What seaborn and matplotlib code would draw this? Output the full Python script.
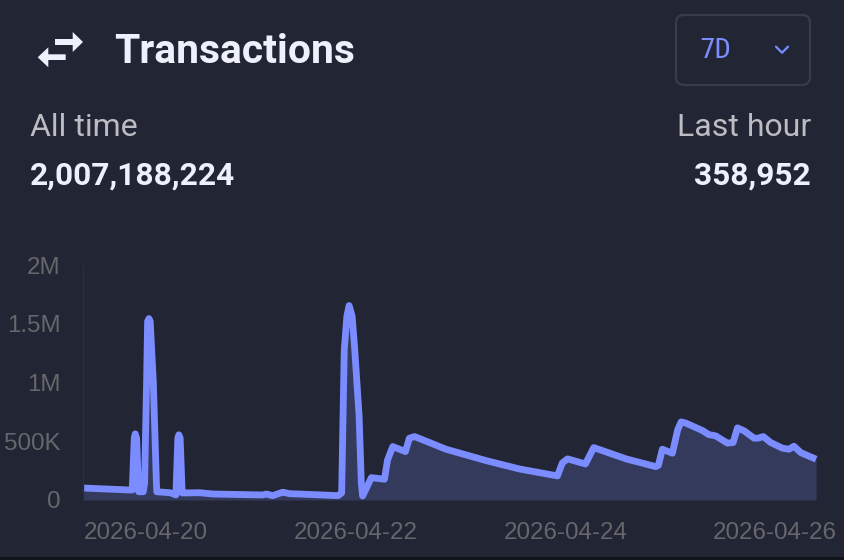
import matplotlib
matplotlib.use('Agg')
import matplotlib.pyplot as plt
import matplotlib.dates as mdates
from matplotlib.patches import FancyBboxPatch, Polygon
from matplotlib.transforms import IdentityTransform
import pandas as pd
import seaborn as sns

# hours after 2026-04-20 00:00 and transactions in thousands
hours = [-14.4, -3.7, -3.13, -2.67, -2.45, -2.13, -1.67, -0.6, -0.3, 0.15, 0.39, 0.69, 0.98, 1.7,
         2.4, 2.5, 5.5, 6.4, 6.86, 7.31, 7.54, 7.84, 8.3, 8.5, 12.3, 15.3, 26.7, 27.6,
         29.0, 31.3, 32.9, 44.0, 44.8, 45.4, 46.0, 46.5, 47.2, 47.8, 48.8, 49.3, 49.6,
         51.6, 54.6, 55.3, 56.5, 59.4, 60.3, 61.5, 68.7, 77.9, 85.5, 94.2, 95.3, 96.5,
         100.6, 102.5, 109.9, 116.7, 117.3, 118.2, 120.5, 121.7, 122.5, 123.6, 127.4, 128.8,
         130.4, 133.1, 134.4, 135.4, 136.9, 139.2, 140.1, 141.3, 143.0, 145.7, 147.2, 148.3,
         149.9, 153.4]
transactions = [102, 85, 85, 526, 563, 526, 70, 70, 145, 1000, 1521, 1544, 1521, 1000,
                145, 70, 62, 50, 43, 526, 555, 526, 60, 60, 62, 51, 43, 51,
                37, 66, 54, 37, 60, 1280, 1564, 1655, 1564, 1280, 711, 145, 34,
                190, 177, 340, 455, 412, 526, 540, 432, 335, 264, 205, 315, 350,
                307, 446, 350, 284, 295, 432, 398, 597, 665, 654, 591, 557,
                546, 484, 489, 614, 589, 526, 526, 540, 489, 441, 432, 458,
                403, 347]
y_ticks = [0, 500, 1000, 1500, 2000]
y_labels = ['0', '500K', '1M', '1.5M', '2M']
x_ticks = ['2026-04-20', '2026-04-22', '2026-04-24', '2026-04-26']

bg = '#222533'
blue = '#7a8cff'
white = '#eef0fb'
grey = '#bcbcc2'
tick_grey = '#66676c'

df = pd.DataFrame({
    'time': pd.Timestamp('2026-04-20') + pd.to_timedelta(hours, unit='h'),
    'value': transactions,
})

sns.set_theme(style='dark')
plt.rcParams['font.family'] = ['Liberation Sans', 'DejaVu Sans']

W, H = 844, 560
fig = plt.figure(figsize=(8.44, 5.6), dpi=100, facecolor='#12141c')
px = IdentityTransform()


def fx(x):
    return x / W


def fy(y):
    return 1 - y / H


# card behind everything
fig.add_artist(FancyBboxPatch((-20, H - 557), W + 40, 600, boxstyle='round,pad=0,rounding_size=10',
                              transform=px, facecolor=bg, edgecolor='none', zorder=-5))
fig.add_artist(FancyBboxPatch((-1, H - 557), W + 2, 20, boxstyle='round,pad=0,rounding_size=8',
                              transform=px, facecolor=bg, edgecolor='none', zorder=-5))

ax = fig.add_axes([fx(83), fy(500), fx(817) - fx(83), (500 - 265) / H])
ax.patch.set_alpha(0)
ax.fill_between(df['time'], df['value'], 0, color='#343a5c', lw=0)
sns.lineplot(data=df, x='time', y='value', ax=ax, color=blue, linewidth=4.9, clip_on=False,
             solid_joinstyle='round', solid_capstyle='butt', errorbar=None)
ax.set_xlim(pd.Timestamp('2026-04-19 09:36'), pd.Timestamp('2026-04-26 09:36'))
ax.set_ylim(0, 2000)
ax.set_xlabel('')
ax.set_ylabel('')
ax.set_xticks([mdates.date2num(pd.Timestamp(t)) for t in x_ticks])
ax.xaxis.set_major_formatter(mdates.DateFormatter('%Y-%m-%d'))
ax.set_yticks(y_ticks)
ax.set_yticklabels(y_labels)
ax.tick_params(axis='both', length=0, labelsize=17.4, labelcolor=tick_grey)
ax.tick_params(axis='x', pad=16)
ax.tick_params(axis='y', pad=16)
ax.grid(False)
for side in ['top', 'right', 'bottom']:
    ax.spines[side].set_visible(False)
ax.spines['left'].set_color('#2a2d3b')
ax.spines['left'].set_linewidth(1)

# header text
rb = ['Roboto', 'DejaVu Sans']
fig.text(fx(114), fy(52), 'Transactions', family=rb, fontsize=29.3, fontweight='bold', color=white, va='center')
fig.text(fx(30), fy(127), 'All time', family=rb, fontsize=23, color=grey, va='center')
fig.text(fx(30), fy(176), '2,007,188,224', family=rb, fontsize=22.8, fontweight='bold', color=white, va='center')
fig.text(fx(811), fy(127), 'Last hour', family=rb, fontsize=23, color=grey, va='center', ha='right')
fig.text(fx(811), fy(176), '358,952', family=rb, fontsize=22.8, fontweight='bold', color=white, va='center', ha='right')

# range selector
fig.add_artist(FancyBboxPatch((676, H - 85), 134, 70, boxstyle='round,pad=0,rounding_size=8',
                              transform=px, facecolor='none', edgecolor='#383b49', lw=1.6))
fig.text(fx(699), fy(51), '7D', family=['DejaVu Sans Mono'], fontsize=19, color=blue, va='center')
fig.add_artist(plt.Line2D([fx(776), fx(782), fx(788)], [fy(46.7), fy(52.7), fy(46.7)], color=blue, lw=1.6))

# swap icon
upper = [(55, 39), (72.7, 39), (72.7, 32), (83, 42), (72.7, 52), (72.7, 45), (55, 45)]
lower = [(65.7, 54.3), (48.3, 54.3), (48.3, 47.3), (37.7, 57.3), (48.3, 67.3), (48.3, 60), (65.7, 60)]
for arrow in [upper, lower]:
    fig.add_artist(Polygon([(fx(a), fy(b)) for a, b in arrow], closed=True,
                           transform=fig.transFigure, facecolor=white, edgecolor='none'))

fig.savefig('out.png', dpi=100, facecolor=fig.get_facecolor())
